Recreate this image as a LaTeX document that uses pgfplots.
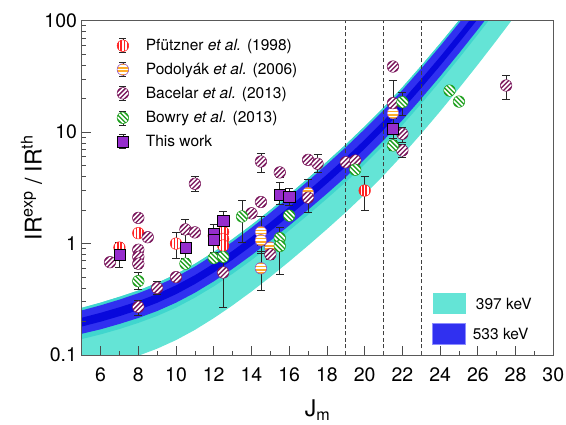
\documentclass[border=0pt]{standalone}
\usepackage{fontspec}
\setmainfont{TeX Gyre Heros}
\usepackage{pgfplots}
\pgfplotsset{compat=1.18}
\usepackage{pgfplotstable}
\usepgfplotslibrary{fillbetween}

\definecolor{cyanout}{RGB}{100,228,214}
\definecolor{cyanin}{RGB}{64,214,206}
\definecolor{blueband}{RGB}{48,48,240}
\definecolor{bluecore}{RGB}{8,8,220}
\definecolor{pfured}{RGB}{255,35,35}
\definecolor{podorange}{RGB}{255,172,40}
\definecolor{podedge}{RGB}{140,70,200}
\definecolor{bacpurple}{RGB}{122,22,92}
\definecolor{bowgreen}{RGB}{30,160,30}
\definecolor{thiswork}{RGB}{150,45,205}

% band edges: x, 397 keV top, 533 keV top, core top, core bottom, 533 keV bottom, inner 397 bottom, 397 keV bottom
\pgfplotstableread{
x  cT     bT     dT     dB     bB     ciB    cB
5  0.265  0.251  0.216  0.180  0.155  0.139  0.0698
6  0.295  0.279  0.239  0.199  0.170  0.153  0.0773
7  0.333  0.314  0.268  0.223  0.190  0.171  0.0867
8  0.379  0.358  0.304  0.253  0.215  0.194  0.0984
9  0.443  0.418  0.353  0.294  0.248  0.224  0.114
10 0.531  0.501  0.422  0.351  0.295  0.266  0.136
11 0.658  0.621  0.520  0.433  0.362  0.327  0.168
12 0.839  0.793  0.661  0.550  0.458  0.413  0.214
13 1.099  1.037  0.861  0.716  0.594  0.536  0.279
14 1.469  1.387  1.146  0.953  0.787  0.710  0.371
15 2.000  1.888  1.552  1.291  1.062  0.957  0.502
16 2.761  2.606  2.133  1.774  1.452  1.309  0.690
17 3.855  3.639  2.965  2.466  2.009  1.811  0.959
18 5.433  5.129  4.159  3.459  2.805  2.529  1.346
19 7.745  7.311  5.902  4.909  3.963  3.573  1.910
20 11.25  10.62  8.531  7.096  5.702  5.140  2.761
21 16.63  15.70  12.62  10.50  8.433  7.603  4.083
22 25.29  23.88  19.19  15.96  12.82  11.56  6.209
23 39.45  37.24  29.92  24.89  20.00  18.03  9.683
24 62.52  59.02  47.42  39.45  31.70  28.58  15.35
25 100.7  95.06  76.38  63.53  51.05  46.03  24.72
26 164.4  155.2  124.7  103.7  83.37  75.16  40.36
27 272.3  257.0  206.5  171.8  138.0  124.5  66.83
28 457.1  431.5  346.7  288.4  231.7  208.9  112.2
29 776.0  733.0  589.0  490.0  394.0  355.0  190.5
}\band

% striped circle marks: name, stripe angle, fill, edge
\newcommand\stripedcircle[4]{%
  \pgfdeclareplotmark{#1}{%
    \pgfpathcircle{\pgfpointorigin}{\pgfplotmarksize}%
    \pgfsetfillcolor{#3}%
    \pgfusepathqfill
    \begin{pgfscope}%
      \pgfpathcircle{\pgfpointorigin}{\pgfplotmarksize}%
      \pgfusepathqclip
      \pgftransformrotate{#2}%
      \pgfsetlinewidth{1.65pt}%
      \pgfsetstrokecolor{white}%
      \pgfpathmoveto{\pgfpoint{-3.3pt}{-8pt}}\pgfpathlineto{\pgfpoint{-3.3pt}{8pt}}%
      \pgfpathmoveto{\pgfpoint{0pt}{-8pt}}\pgfpathlineto{\pgfpoint{0pt}{8pt}}%
      \pgfpathmoveto{\pgfpoint{3.3pt}{-8pt}}\pgfpathlineto{\pgfpoint{3.3pt}{8pt}}%
      \pgfusepathqstroke
    \end{pgfscope}%
    \pgfpathcircle{\pgfpointorigin}{\pgfplotmarksize}%
    \pgfsetlinewidth{0.5pt}%
    \pgfsetstrokecolor{#4}%
    \pgfusepathqstroke
  }}
\stripedcircle{pfu}{0}{pfured}{pfured}
\stripedcircle{pod}{90}{podorange}{podedge}
\stripedcircle{bac}{-45}{bacpurple}{bacpurple}
\stripedcircle{bow}{45}{bowgreen}{bowgreen}

\pgfplotsset{
  errs/.style={error bars/.cd, y dir=both, y explicit,
    error bar style={black!85, line width=0.6pt},
    error mark options={rotate=90, black!85, mark size=4pt, line width=0.6pt}},
}

\begin{document}
\begin{tikzpicture}
\begin{axis}[
    scale only axis,
    width=471.6pt, height=334.3pt,
    xmin=5, xmax=30,
    ymin=0.1, ymax=100,
    ymode=log,
    xtick={6,8,...,30},
    minor xtick={5,7,...,29},
    ytick={0.1,1,10,100},
    yticklabels={0.1,1,10,100},
    minor ytick={0.2,0.3,0.4,0.5,0.6,0.7,0.8,0.9,2,3,4,5,6,7,8,9,20,30,40,50,60,70,80,90},
    tick align=inside,
    xtick pos=bottom, ytick pos=left,
    major tick length=9pt, minor tick length=4.5pt,
    axis line style={black!65, line width=0.8pt},
    every tick/.style={black!70, line width=0.7pt},
    axis on top,
    /pgf/number format/assume math mode=true,
    tick label style={font=\fontsize{19.5}{20}\selectfont},
    x tick label style={anchor=base, inner sep=0pt, yshift=-26.7pt},
    y tick label style={anchor=east, inner sep=0pt, xshift=-4.5pt},
    label style={font=\fontsize{23}{24}\selectfont},
    xlabel={J\textsubscript{m}},
    ylabel={IR\textsuperscript{exp} / IR\textsuperscript{th}},
    x label style={at={(axis description cs:0.5,-0.1845)}, anchor=base, inner sep=0pt},
    y label style={at={(axis description cs:-0.0848,0.5)}, anchor=base},
    legend style={at={(axis description cs:0.0704,0.949)}, anchor=north west,
      draw=none, fill=none, inner sep=0pt, outer sep=0pt,
      font=\fontsize{15.5}{16}\selectfont,
      row sep=8.5pt, column sep=15pt,
      nodes={inner sep=0pt}},
    legend cell align=left,
    legend image code/.code={%
      \draw[black!85, line width=0.6pt] (0pt,-7pt) -- (0pt,7pt)
        (-3.5pt,-7pt) -- (3.5pt,-7pt) (-3.5pt,7pt) -- (3.5pt,7pt);
      \draw[#1] plot coordinates {(0pt,0pt)};
    },
]

% theory bands
\addplot[draw=none, forget plot, name path=cT] table[x=x, y=cT] {\band};
\addplot[draw=none, forget plot, name path=bT] table[x=x, y=bT] {\band};
\addplot[draw=none, forget plot, name path=dT] table[x=x, y=dT] {\band};
\addplot[draw=none, forget plot, name path=dB] table[x=x, y=dB] {\band};
\addplot[draw=none, forget plot, name path=bB] table[x=x, y=bB] {\band};
\addplot[draw=none, forget plot, name path=ciB] table[x=x, y=ciB] {\band};
\addplot[draw=none, forget plot, name path=cB] table[x=x, y=cB] {\band};
\addplot[fill=cyanout, draw=none, forget plot] fill between[of=cT and cB];
\addplot[fill=cyanin, draw=none, forget plot] fill between[of=cT and ciB];
\addplot[fill=blueband, draw=none, forget plot] fill between[of=bT and bB];
\addplot[fill=bluecore, draw=none, forget plot] fill between[of=dT and dB];

% dashed lines
\addplot[forget plot, black!75, line width=0.7pt, dash pattern=on 4pt off 2.5pt] coordinates {(19,0.1) (19,100)};
\addplot[forget plot, black!75, line width=0.7pt, dash pattern=on 4pt off 2.5pt] coordinates {(21,0.1) (21,100)};
\addplot[forget plot, black!75, line width=0.7pt, dash pattern=on 4pt off 2.5pt] coordinates {(23,0.1) (23,100)};

% Pfuetzner et al. (1998)
\addplot[only marks, mark=pfu, mark size=5.8pt, errs] coordinates {
  (7,0.92) += (0,0.08) -= (0,0.07)
  (8,1.24) += (0,0.08) -= (0,0.08)
  (10,1.00) += (0,0.26) -= (0,0.27)
  (12,1.17) += (0,0.10) -= (0,0.10)
  (12.5,1.27) += (0,0.08) -= (0,0.08)
  (12.5,1.10) += (0,0.08) -= (0,0.08)
  (12.5,0.96) += (0,0.08) -= (0,0.08)
  (20,2.99) += (0,1.03) -= (0,1.01)
};
\addlegendentry{Pfützner \textit{et al.} (1998)}

% Podolyak et al. (2006)
\addplot[only marks, mark=pod, mark size=5.8pt, errs] coordinates {
  (14.5,1.27) += (0,0.50) -= (0,0.30)
  (14.5,1.07) += (0,0.30) -= (0,0.25)
  (14.5,0.60) += (0,0.25) -= (0,0.22)
  (15,0.92) += (0,0.08) -= (0,0.08)
  (17,2.85) += (0,0.90) -= (0,0.30)
  (21.5,14.8) += (0,1.5) -= (0,1.5)
};
\addlegendentry{Podolyák \textit{et al.} (2006)}

% Bacelar et al. (2013)
\addplot[only marks, mark=bac, mark size=5.8pt, errs] coordinates {
  (6.5,0.68) += (0,0.04) -= (0,0.04)
  (8,1.70) += (0,0.10) -= (0,0.10)
  (8,0.88) += (0,0.06) -= (0,0.06)
  (8,0.76) += (0,0.06) -= (0,0.06)
  (8,0.66) += (0,0.06) -= (0,0.06)
  (8,0.27) += (0,0.04) -= (0,0.045)
  (8.5,1.14) += (0,0.06) -= (0,0.06)
  (9,0.40) += (0,0.06) -= (0,0.05)
  (10,0.50) += (0,0.04) -= (0,0.04)
  (10.5,1.34) += (0,0.30) -= (0,0.12)
  (11,1.26) += (0,0.08) -= (0,0.08)
  (11,3.44) += (0,0.56) -= (0,0.50)
  (12.5,0.55) += (0,0.15) -= (0,0.28)
  (14,1.87) += (0,0.15) -= (0,0.15)
  (14.5,2.36) += (0,0.20) -= (0,0.20)
  (14.5,5.45) += (0,1.05) -= (0,1.05)
  (15,0.80) += (0,0.08) -= (0,0.08)
  (15.5,4.35) += (0,0.40) -= (0,0.40)
  (17,2.58) += (0,0.20) -= (0,0.69)
  (17,5.64) += (0,0.40) -= (0,0.40)
  (17.5,5.20) += (0,1.18) -= (0,0.80)
  (19,5.37) += (0,0.30) -= (0,0.30)
  (19.5,5.56) += (0,0.30) -= (0,0.30)
  (21.5,38.8) += (0,3.0) -= (0,3.0)
  (21.5,18.2) += (0,10.8) -= (0,2.0)
  (22,9.66) += (0,1.5) -= (0,1.5)
  (22,6.84) += (0,0.90) -= (0,0.94)
  (27.5,26.2) += (0,6.4) -= (0,6.6)
};
\addlegendentry{Bacelar \textit{et al.} (2013)}

% Bowry et al. (2013)
\addplot[only marks, mark=bow, mark size=5.8pt, errs] coordinates {
  (8,0.46) += (0,0.09) -= (0,0.07)
  (10.5,0.66) += (0,0.04) -= (0,0.04)
  (12,0.74) += (0,0.05) -= (0,0.05)
  (12.5,0.76) += (0,0.05) -= (0,0.05)
  (13.5,1.75) += (0,0.72) -= (0,0.72)
  (15.5,1.12) += (0,0.28) -= (0,0.20)
  (15.5,0.95) += (0,0.10) -= (0,0.42)
  (16,1.78) += (0,0.10) -= (0,0.10)
  (19.5,4.60) += (0,0.30) -= (0,0.30)
  (21.5,7.60) += (0,1.20) -= (0,0.80)
  (22,18.6) += (0,4.2) -= (0,4.5)
  (24.5,23.6) += (0,1.5) -= (0,1.5)
  (25,18.8) += (0,1.5) -= (0,1.5)
};
\addlegendentry{Bowry \textit{et al.} (2013)}

% This work
\addplot[only marks, mark=square*, mark size=5.6pt,
  mark options={fill=thiswork, draw=black, line width=0.5pt}, errs] coordinates {
  (7,0.79) += (0,0.24) -= (0,0.18)
  (10.5,0.91) += (0,0.35) -= (0,0.18)
  (12,1.22) += (0,0.28) -= (0,0.20)
  (12,1.08) += (0,0.20) -= (0,0.24)
  (12.5,1.59) += (0,0.36) -= (0,0.30)
  (15.5,2.74) += (0,0.80) -= (0,0.50)
  (16,2.62) += (0,0.50) -= (0,0.40)
  (21.5,10.7) += (0,2.8) -= (0,2.3)
};
\addlegendentry{This work}

% band legend
\fill[cyanout] (rel axis cs:0.7443,0.1226) rectangle (rel axis cs:0.8143,0.1846);
\filldraw[fill=blueband, draw=blue!45, line width=0.6pt] (rel axis cs:0.7443,0.0329) rectangle (rel axis cs:0.8143,0.0948);
\node[anchor=west, inner sep=0pt, font=\fontsize{15.5}{16}\selectfont] at (rel axis cs:0.8355,0.1535) {397 keV};
\node[anchor=west, inner sep=0pt, font=\fontsize{15.5}{16}\selectfont] at (rel axis cs:0.829,0.0637) {533 keV};
\end{axis}
\pgfresetboundingbox
\path[use as bounding box] ([xshift=-81.7pt,yshift=-70pt]current axis.south west) rectangle ([xshift=12.7pt,yshift=20.7pt]current axis.north east);
\end{tikzpicture}
\end{document}
